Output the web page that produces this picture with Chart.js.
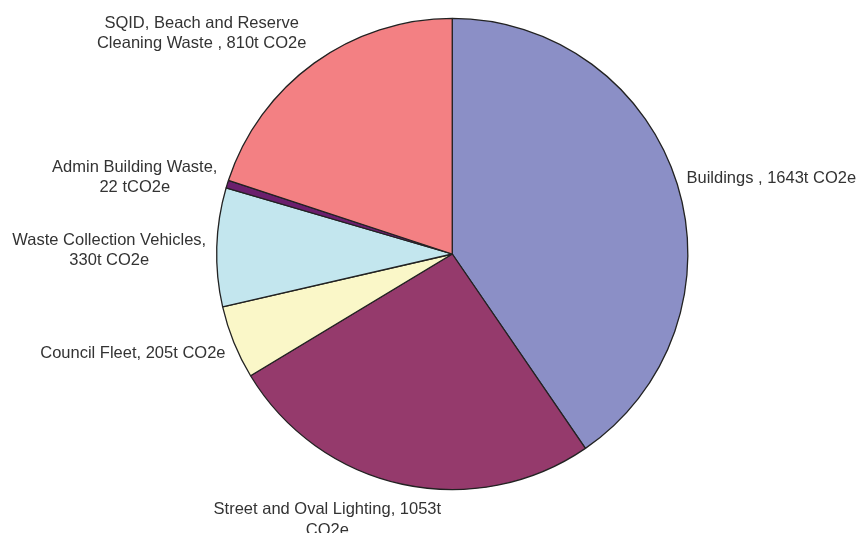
<!DOCTYPE html>
<html>
<head>
<meta charset="utf-8">
<title>Emissions by source</title>
<script src="https://cdn.jsdelivr.net/npm/chart.js@4.4.1/dist/chart.umd.min.js"></script>
<style>
    html, body { margin: 0; padding: 0; background: #ffffff; }
    #grafico { display: block; }
</style>
</head>
<body>
<canvas id="grafico" width="856" height="533"></canvas>
<script>
// emissoes por fonte, em t CO2e
const fontes = ['Buildings', 'Street and Oval Lighting', 'Council Fleet', 'Waste Collection Vehicles', 'Admin Building Waste', 'SQID, Beach and Reserve Cleaning Waste'];
const emissoes = [1643, 1053, 205, 330, 22, 810];
const cores = ['#8b8fc6', '#953a6c', '#faf7c8', '#c3e6ee', '#6b1f6d', '#f38083'];

// texto dos rotulos, {v} vira o valor da fatia
const rotulos = [
    ['Buildings , {v}t CO2e'],
    ['Street and Oval Lighting, {v}t', 'CO2e'],
    ['Council Fleet, {v}t CO2e'],
    ['Waste Collection Vehicles,', '{v}t CO2e'],
    ['Admin Building Waste,', '{v} tCO2e'],
    ['SQID, Beach and Reserve', 'Cleaning Waste , {v}t CO2e']
];

// deslocamento do rotulo em relacao ao ponto medio da borda da fatia
const deslocRotulo = [
    { dx: 94, dy: -1 },
    { dx: -75, dy: 30 },
    { dx: -101, dy: 15.5 },
    { dx: -107.5, dy: -2.5 },
    { dx: -92.5, dy: -12.5 },
    { dx: -112.5, dy: -35.5 }
];

const rotulosPlugin = {
    id: 'rotulosFatias',
    afterDatasetsDraw(chart) {
        const ctx = chart.ctx;
        const arcos = chart.getDatasetMeta(0).data;
        ctx.save();
        ctx.font = '16.5px "Liberation Sans", Arial, sans-serif';
        ctx.fillStyle = '#333333';
        ctx.textAlign = 'center';
        ctx.textBaseline = 'alphabetic';
        arcos.forEach((arco, i) => {
            const p = arco.getProps(['x', 'y', 'startAngle', 'endAngle', 'outerRadius'], true);
            const meio = (p.startAngle + p.endAngle) / 2;
            const ax = p.x + Math.cos(meio) * p.outerRadius;
            const ay = p.y + Math.sin(meio) * p.outerRadius;
            const x = ax + deslocRotulo[i].dx;
            const y = ay + deslocRotulo[i].dy;
            rotulos[i].forEach((linha, j) => {
                ctx.fillText(linha.replace('{v}', emissoes[i]), x, y + j * 20.5);
            });
        });
        ctx.restore();
    }
};

new Chart(document.getElementById('grafico'), {
    type: 'pie',
    data: {
        labels: fontes,
        datasets: [{
            data: emissoes,
            backgroundColor: cores,
            borderColor: '#222222',
            borderWidth: 1.3
        }]
    },
    options: {
        responsive: false,
        animation: false,
        layout: {
            padding: { left: 216, right: 167.5, top: 17.5, bottom: 42.5 }
        },
        plugins: {
            legend: { display: false },
            tooltip: { enabled: false }
        }
    },
    plugins: [rotulosPlugin]
});
</script>
</body>
</html>
